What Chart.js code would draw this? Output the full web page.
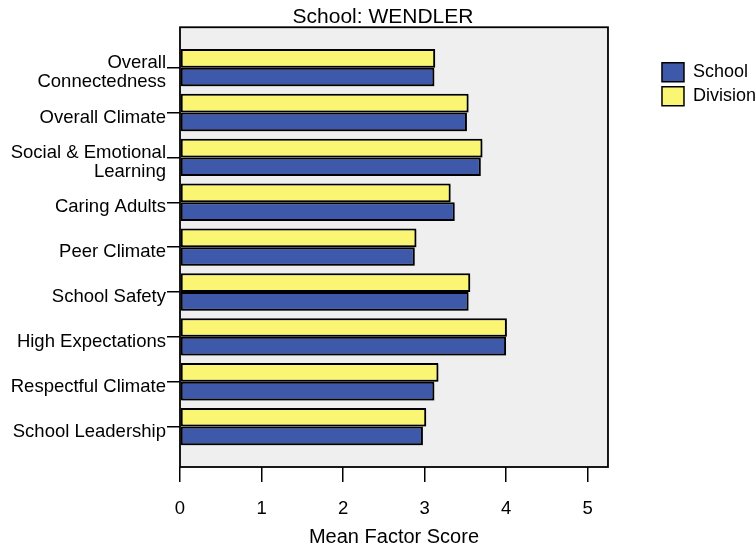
<!DOCTYPE html>
<html>
<head>
<meta charset="utf-8">
<script src="https://cdn.jsdelivr.net/npm/chart.js@4.4.1/dist/chart.umd.min.js"></script>
<style>
  html, body { margin: 0; padding: 0; background: #fff; }
</style>
</head>
<body>
<canvas id="chart" width="756" height="550"></canvas>
<script>
// Factor names, top to bottom
const categories = [
    ['Overall', 'Connectedness'],
    'Overall Climate',
    ['Social & Emotional', 'Learning'],
    'Caring Adults',
    'Peer Climate',
    'School Safety',
    'High Expectations',
    'Respectful Climate',
    'School Leadership'
];
const schoolScores = [3.12, 3.52, 3.69, 3.37, 2.88, 3.54, 4.00, 3.12, 2.98];
const divisionScores = [3.13, 3.54, 3.71, 3.32, 2.90, 3.56, 4.01, 3.17, 3.02];
const xTicks = [0, 1, 2, 3, 4, 5];

Chart.defaults.font.family = "'Liberation Sans', Arial, sans-serif";
Chart.defaults.font.size = 18;
Chart.defaults.color = '#000';

// grey plot box with a black frame, light drop shadow under the bars
const plotFrame = {
    id: 'plotFrame',
    beforeDraw(chart) {
        const { ctx, chartArea: a } = chart;
        ctx.save();
        ctx.fillStyle = '#efefef';
        ctx.fillRect(a.left, a.top, a.width, a.height);
        ctx.restore();
    },
    beforeDatasetsDraw(chart) {
        const ctx = chart.ctx;
        ctx.save();
        ctx.shadowColor = 'rgba(0, 0, 0, 0.3)';
        ctx.shadowOffsetX = 1.5;
        ctx.shadowOffsetY = 1.5;
        ctx.shadowBlur = 1;
    },
    afterDatasetsDraw(chart) {
        const { ctx, chartArea: a } = chart;
        ctx.restore();
        ctx.save();
        ctx.strokeStyle = '#000';
        ctx.lineWidth = 1.8;
        ctx.strokeRect(a.left, a.top, a.width, a.height);
        ctx.restore();
    }
};

const toPoints = values => values.map((v, i) => ({ x: v, y: i }));

new Chart(document.getElementById('chart'), {
    type: 'bar',
    data: {
        datasets: [
            {
                label: 'Division',
                data: toPoints(divisionScores),
                backgroundColor: '#faf573',
                borderColor: '#000',
                borderWidth: 2,
                borderSkipped: false
            },
            {
                label: 'School',
                data: toPoints(schoolScores),
                backgroundColor: '#3e59aa',
                borderColor: '#000',
                borderWidth: 2,
                borderSkipped: false
            }
        ]
    },
    options: {
        responsive: false,
        animation: false,
        indexAxis: 'y',
        categoryPercentage: 0.833,
        barPercentage: 1,
        layout: { padding: { left: 0, right: -10, top: 0, bottom: 0 } },
        plugins: {
            title: {
                display: true,
                text: 'School: WENDLER',
                font: { size: 21, weight: 'normal', lineHeight: 0.95 },
                padding: { top: 7, bottom: 0.3 }
            },
            legend: {
                position: 'right',
                align: 'start',
                fullSize: false,
                reverse: true,
                title: { display: true, text: '', font: { size: 18 }, padding: { top: 8.8, bottom: 0 } },
                labels: {
                    boxWidth: 22,
                    boxHeight: 19,
                    padding: 5,
                    font: { size: 18 },
                    generateLabels(chart) {
                        return chart.data.datasets.map((ds, i) => ({
                            text: ds.label,
                            fillStyle: ds.backgroundColor,
                            strokeStyle: '#000',
                            lineWidth: 1.5,
                            datasetIndex: i,
                            hidden: false
                        }));
                    }
                }
            },
            tooltip: { enabled: false }
        },
        scales: {
            x: {
                type: 'linear',
                min: 0,
                max: 5.25,
                afterBuildTicks: scale => { scale.ticks = xTicks.map(v => ({ value: v })); },
                afterFit: scale => { scale.height = 83; },
                grid: { drawOnChartArea: false, tickLength: 15, color: '#000', lineWidth: 1.5 },
                border: { display: false },
                ticks: { padding: 16, font: { size: 18.5 } },
                title: {
                    display: true,
                    text: 'Mean Factor Score',
                    font: { size: 20 },
                    padding: { top: 4, bottom: 1 }
                }
            },
            y: {
                type: 'linear',
                reverse: true,
                offset: false,
                min: -0.9,
                max: 8.9,
                afterBuildTicks: scale => { scale.ticks = categories.map((c, i) => ({ value: i })); },
                afterFit: scale => { scale.width = 180; },
                grid: { drawOnChartArea: false, offset: false, tickLength: 13, color: '#000', lineWidth: 1.5 },
                border: { display: false },
                ticks: {
                    padding: 1,
                    labelOffset: 5,
                    font: { size: 18.5, lineHeight: 1.05 },
                    callback: value => categories[value]
                }
            },
            // empty gap between the plot and the legend
            gap: {
                type: 'linear',
                axis: 'y',
                position: 'right',
                grid: { display: false },
                border: { display: false },
                ticks: { display: false },
                afterFit: scale => { scale.width = 49; }
            }
        }
    },
    plugins: [plotFrame]
});
</script>
</body>
</html>
